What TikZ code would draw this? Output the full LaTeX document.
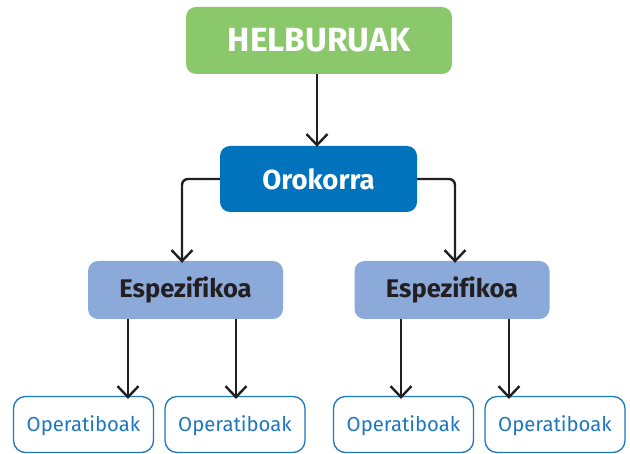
\documentclass[tikz,border=0pt]{standalone}
\usepackage{fontspec}
\setmainfont[Ligatures=NoCommon]{Fira Sans}
\usetikzlibrary{arrows.meta}
\definecolor{hgreen}{HTML}{8AC86B}
\definecolor{oblue}{HTML}{0172BC}
\definecolor{eblue}{HTML}{8BAADA}
\definecolor{opblue}{HTML}{1E77C0}
\definecolor{linec}{HTML}{231F20}
\begin{document}
\begin{tikzpicture}[x=1pt,y=-1pt,
  topbox/.style={fill=hgreen, rounded corners=10pt, minimum width=266pt, minimum height=67pt, inner sep=0pt, text=white, font=\fontsize{33.5}{33.5}\selectfont\bfseries},
  orobox/.style={fill=oblue, rounded corners=10pt, minimum width=197pt, minimum height=66pt, inner sep=0pt, text=white, font=\fontsize{27.5}{27.5}\selectfont\bfseries},
  espbox/.style={fill=eblue, rounded corners=10pt, minimum width=195pt, minimum height=58pt, inner sep=0pt, text=linec, font=\fontsize{25.5}{25.5}\selectfont\bfseries},
  opbox/.style={draw=opblue, line width=1.3pt, fill=white, rounded corners=12pt, minimum width=140pt, minimum height=56pt, inner sep=0pt, text height=15pt, text depth=0pt, text=opblue, font=\fontsize{20.3}{20.3}\selectfont},
  arr/.style={draw=linec, line width=2.4pt, -{Straight Barb[length=11pt,width=21pt,line width=2.4pt]}}
]
\useasboundingbox (0,0) rectangle (630,454);
\node[topbox] (top) at (319,40.5) {HELBURUAK};
\node[orobox] (oro) at (318.5,179) {Orokorra};
\node[espbox] (espL) at (185.5,290) {Espezifikoa};
\node[espbox] (espR) at (452,290) {Espezifikoa};
\node[opbox] (op1) at (83.5,424.5) {Operatiboak};
\node[opbox] (op2) at (235,424.5) {Operatiboak};
\node[opbox] (op3) at (403.5,424.5) {Operatiboak};
\node[opbox] (op4) at (555,424.5) {Operatiboak};
\coordinate (cx) at (317,0);
\coordinate (cl) at (182,0);
\coordinate (cr) at (455,0);
\coordinate (a1) at (128,0);
\coordinate (a2) at (236,0);
\coordinate (a3) at (401,0);
\coordinate (a4) at (509,0);
\draw[arr] (top.south -| cx) -- ([yshift=-1pt]oro.north -| cx);
\draw[arr, rounded corners=6pt] (oro.west) -| ([yshift=-2pt]espL.north -| cl);
\draw[arr, rounded corners=6pt] (oro.east) -| ([yshift=-2pt]espR.north -| cr);
\draw[arr] (espL.south -| a1) -- ([yshift=-3pt]op1.north -| a1);
\draw[arr] (espL.south -| a2) -- ([yshift=-3pt]op2.north -| a2);
\draw[arr] (espR.south -| a3) -- ([yshift=-3pt]op3.north -| a3);
\draw[arr] (espR.south -| a4) -- ([yshift=-3pt]op4.north -| a4);
\end{tikzpicture}
\end{document}
